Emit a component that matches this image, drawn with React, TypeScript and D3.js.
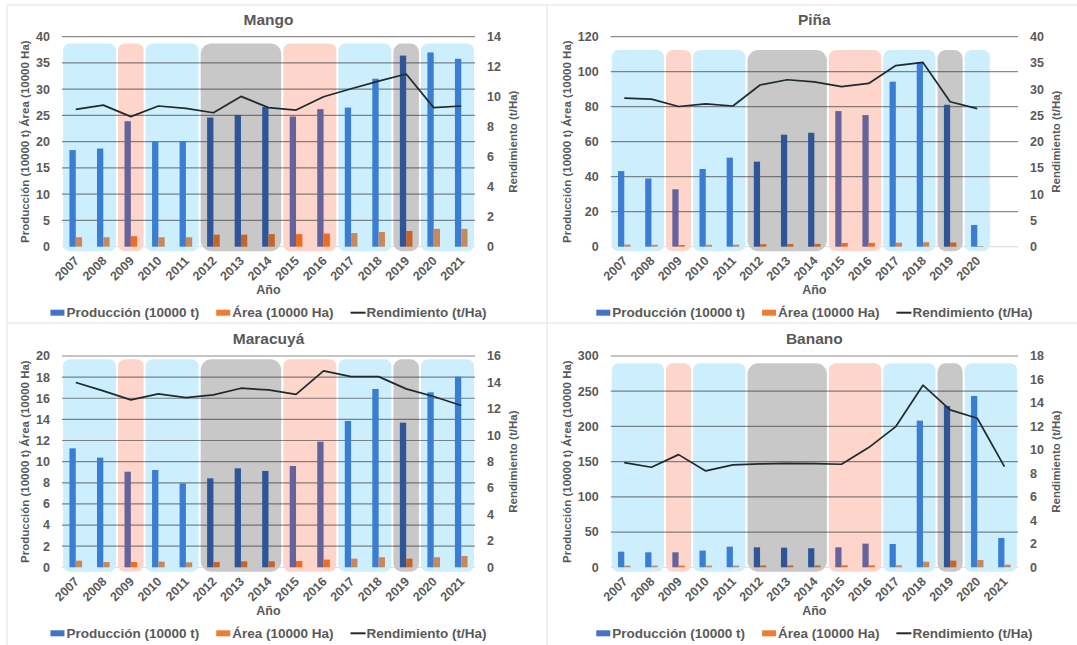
import React, { useEffect, useRef } from 'react';
import * as d3 from 'd3';

// ---- data ----
const years = ['2007', '2008', '2009', '2010', '2011', '2012', '2013', '2014', '2015', '2016', '2017', '2018', '2019', '2020', '2021'];

const mangoProduccion = [18.4, 18.7, 23.9, 20.0, 20.1, 24.6, 25.1, 26.6, 24.8, 26.2, 26.5, 32.0, 36.4, 37.0, 35.8];
const mangoArea = [1.8, 1.8, 2.0, 1.8, 1.8, 2.3, 2.3, 2.4, 2.4, 2.5, 2.6, 2.8, 3.0, 3.4, 3.4];
const mangoRendimiento = [9.16, 9.44, 8.67, 9.38, 9.22, 8.93, 10.02, 9.27, 9.11, 10.0, 10.53, 11.04, 11.51, 9.27, 9.38];

const pinaProduccion = [43.2, 39.0, 32.8, 44.4, 50.9, 48.6, 64.0, 65.1, 77.5, 75.2, 94.3, 105.3, 81.1, 12.4];
const pinaArea = [1.2, 1.1, 1.0, 1.1, 1.2, 1.4, 1.5, 1.6, 2.1, 2.2, 2.3, 2.6, 2.4, 0.4];
const pinaRendimiento = [28.3, 28.1, 26.7, 27.2, 26.8, 30.8, 31.8, 31.4, 30.5, 31.1, 34.5, 35.1, 27.6, 26.3];

const maracuyaProduccion = [11.26, 10.38, 9.05, 9.21, 7.95, 8.42, 9.37, 9.12, 9.59, 11.89, 13.85, 16.88, 13.69, 16.56, 18.04];
const maracuyaArea = [0.63, 0.5, 0.5, 0.54, 0.47, 0.5, 0.57, 0.57, 0.6, 0.73, 0.82, 0.95, 0.82, 0.95, 1.07];
const maracuyaRendimiento = [13.99, 13.36, 12.68, 13.13, 12.85, 13.06, 13.56, 13.43, 13.1, 14.87, 14.44, 14.44, 13.51, 12.93, 12.25];

const bananoProduccion = [22.2, 21.3, 21.3, 23.7, 29.3, 28.4, 27.9, 27.0, 28.4, 33.6, 33.1, 208.2, 229.1, 243.3, 41.6];
const bananoArea = [2.4, 2.4, 2.4, 2.4, 2.4, 2.6, 2.6, 2.6, 2.8, 2.8, 2.8, 8.0, 9.5, 10.4, 3.8];
const bananoRendimiento = [8.92, 8.52, 9.6, 8.21, 8.72, 8.81, 8.86, 8.84, 8.78, 10.2, 11.99, 15.51, 13.41, 12.7, 8.58];

// shaded year spans behind the bars
const periodFrom = ['2007', '2009', '2010', '2012', '2015', '2017', '2019', '2020'];
const periodTo = ['2008', '2009', '2011', '2014', '2016', '2018', '2019', '2021'];
const periodKind = ['blue', 'pink', 'blue', 'gray', 'pink', 'blue', 'gray', 'blue'];

const legendLabels = ['Producción (10000 t)', 'Área (10000 Ha)', 'Rendimiento (t/Ha)'];

// ---- styles ----
const kindStyle: Record<string, { bg: string; prod: string; area: string; rx: number }> = {
  blue: { bg: '#cdeefc', prod: '#3a7dd2', area: '#c9885a', rx: 7 },
  pink: { bg: '#fdd5cb', prod: '#66629c', area: '#ef6b22', rx: 7 },
  gray: { bg: '#c8c8c8', prod: '#2f5597', area: '#c4652c', rx: 11 },
};
const TEXT = '#595959';
const FONT = '"Liberation Sans", Arial, sans-serif';

type PanelCfg = {
  title: string;
  prod: number[];
  area: number[];
  rend: number[];
  leftMax: number;
  leftStep: number;
  rightMax: number;
  rightStep: number;
  left: number;
  right: number;
  top: number;
  bottom: number;
  shadeInset: number;
};

const panels: PanelCfg[] = [
  { title: 'Mango', prod: mangoProduccion, area: mangoArea, rend: mangoRendimiento, leftMax: 40, leftStep: 5, rightMax: 14, rightStep: 2, left: 62, right: 475, top: 36.7, bottom: 246.7, shadeInset: 6.7 },
  { title: 'Piña', prod: pinaProduccion, area: pinaArea, rend: pinaRendimiento, leftMax: 120, leftStep: 20, rightMax: 40, rightStep: 5, left: 610.7, right: 1018, top: 36.7, bottom: 246.7, shadeInset: 13.3 },
  { title: 'Maracuyá', prod: maracuyaProduccion, area: maracuyaArea, rend: maracuyaRendimiento, leftMax: 20, leftStep: 2, rightMax: 16, rightStep: 2, left: 62, right: 475, top: 356, bottom: 567.3, shadeInset: 3.3 },
  { title: 'Banano', prod: bananoProduccion, area: bananoArea, rend: bananoRendimiento, leftMax: 300, leftStep: 50, rightMax: 18, rightStep: 2, left: 610.7, right: 1018, top: 356, bottom: 567.3, shadeInset: 7.3 },
];

function kindAt(i: number): string {
  for (let k = 0; k < periodFrom.length; k++) {
    const a = years.indexOf(periodFrom[k]);
    const b = years.indexOf(periodTo[k]);
    if (i >= a && i <= b) return periodKind[k];
  }
  return 'blue';
}

function drawPanel(svg: d3.Selection<SVGSVGElement, unknown, null, undefined>, p: PanelCfg) {
  const g = svg.append('g');
  const n = p.prod.length;
  const x = d3.scaleBand<string>().domain(years).range([p.left, p.right]).padding(0);
  const bw = x.bandwidth();
  const xs = d3.scaleBand<string>().domain(['prod', 'area']).range([0, bw]).paddingInner(0).paddingOuter(1.18);
  const y = d3.scaleLinear().domain([0, p.leftMax]).range([p.bottom, p.top]);
  const y2 = d3.scaleLinear().domain([0, p.rightMax]).range([p.bottom, p.top]);

  // zero axis line
  g.append('line')
    .attr('x1', p.left).attr('x2', p.right)
    .attr('y1', y(0)).attr('y2', y(0))
    .attr('stroke', '#d9d9d9').attr('stroke-width', 1);

  // shaded periods
  periodFrom.forEach((from, k) => {
    const a = years.indexOf(from);
    const b = Math.min(years.indexOf(periodTo[k]), n - 1);
    if (a > b) return;
    const st = kindStyle[periodKind[k]];
    const x0 = (x(years[a]) as number) + 1;
    const x1 = (x(years[b]) as number) + bw - 1;
    const yTop = p.top + p.shadeInset;
    const yBot = p.bottom + 4.5;
    g.append('rect')
      .attr('x', x0).attr('y', yTop)
      .attr('width', x1 - x0).attr('height', yBot - yTop)
      .attr('rx', Math.min(st.rx, (x1 - x0) / 3)).attr('ry', Math.min(st.rx, (x1 - x0) / 3))
      .attr('fill', st.bg);
  });

  // gridlines
  const leftTicks = d3.range(0, p.leftMax + p.leftStep / 2, p.leftStep);
  g.selectAll(null)
    .data(leftTicks.filter((v) => v > 0))
    .enter()
    .append('line')
    .attr('x1', p.left).attr('x2', p.right)
    .attr('y1', (d) => y(d)).attr('y2', (d) => y(d))
    .attr('stroke', 'rgba(45,45,45,0.55)').attr('stroke-width', 1.2);

  // bars
  p.prod.forEach((v, i) => {
    const st = kindStyle[kindAt(i)];
    const cx = x(years[i]) as number;
    g.append('rect')
      .attr('x', cx + (xs('prod') as number)).attr('y', y(v))
      .attr('width', xs.bandwidth()).attr('height', y(0) - y(v))
      .attr('fill', st.prod);
    const a = p.area[i];
    g.append('rect')
      .attr('x', cx + (xs('area') as number)).attr('y', y(a))
      .attr('width', xs.bandwidth()).attr('height', y(0) - y(a))
      .attr('fill', st.area);
  });

  // yield line
  const line = d3.line<number>()
    .x((_, i) => (x(years[i]) as number) + bw / 2)
    .y((d) => y2(d));
  g.append('path')
    .attr('d', line(p.rend) as string)
    .attr('fill', 'none')
    .attr('stroke', '#1f2a2e')
    .attr('stroke-width', 1.7)
    .attr('stroke-linejoin', 'round');

  const txt = (sel: d3.Selection<SVGTextElement, unknown, null, undefined>, size: number) =>
    sel.attr('font-family', FONT).attr('font-weight', 'bold').attr('font-size', size).attr('fill', TEXT);

  // left tick labels
  leftTicks.forEach((v) => {
    txt(g.append('text'), 12.5)
      .attr('x', p.left - 12).attr('y', y(v))
      .attr('dy', '0.35em').attr('text-anchor', 'end')
      .text(String(v));
  });
  // right tick labels
  d3.range(0, p.rightMax + p.rightStep / 2, p.rightStep).forEach((v) => {
    txt(g.append('text'), 12.5)
      .attr('x', p.right + 12).attr('y', y2(v))
      .attr('dy', '0.35em').attr('text-anchor', 'start')
      .text(String(v));
  });

  // year labels
  years.slice(0, n).forEach((yr) => {
    const ax = (x(yr) as number) + bw / 2 + 4;
    const ay = p.bottom + 15;
    txt(g.append('text'), 12.5)
      .attr('transform', `translate(${ax},${ay}) rotate(-45)`)
      .attr('text-anchor', 'end')
      .text(yr);
  });

  const midX = (p.left + p.right) / 2;
  const midY = (p.top + p.bottom) / 2;

  // title
  txt(g.append('text'), 15.5)
    .attr('x', midX).attr('y', p.top - 17.5)
    .attr('dy', '0.35em').attr('text-anchor', 'middle')
    .text(p.title);

  // axis titles
  txt(g.append('text'), 12.5)
    .attr('x', midX).attr('y', p.bottom + 43)
    .attr('dy', '0.35em').attr('text-anchor', 'middle')
    .text('Año');

  const leftTitleX = p.left - (p.leftMax >= 100 ? 43.5 : 37);
  txt(g.append('text'), 11.5)
    .attr('transform', `translate(${leftTitleX},${midY}) rotate(-90)`)
    .attr('dy', '0.35em').attr('text-anchor', 'middle')
    .text('Producción (10000 t) Área (10000 Ha)');

  txt(g.append('text'), 11.5)
    .attr('transform', `translate(${p.right + 38},${midY}) rotate(-90)`)
    .attr('dy', '0.35em').attr('text-anchor', 'middle')
    .text('Rendimiento (t/Ha)');

  // legend
  const ly = p.bottom + 66;
  const lg = g.append('g');
  let cursor = 0;
  legendLabels.forEach((label, k) => {
    if (k === 2) {
      lg.append('line')
        .attr('x1', cursor).attr('x2', cursor + 15)
        .attr('y1', ly).attr('y2', ly)
        .attr('stroke', '#1f2a2e').attr('stroke-width', 2);
    } else {
      lg.append('rect')
        .attr('x', cursor).attr('y', ly - 3)
        .attr('width', 14).attr('height', 6)
        .attr('fill', k === 0 ? '#4472c4' : '#ed7d31');
    }
    cursor += 16;
    const t = txt(lg.append('text'), 13.5)
      .attr('x', cursor).attr('y', ly)
      .attr('dy', '0.35em')
      .text(label);
    const w = (t.node() as SVGTextElement).getComputedTextLength();
    cursor += w + (k < 2 ? 17 : 0);
  });
  lg.attr('transform', `translate(${midX - cursor / 2},0)`);
}

export default function App() {
  const ref = useRef<SVGSVGElement>(null);

  useEffect(() => {
    const svg = d3.select(ref.current as SVGSVGElement);
    svg.selectAll('*').remove();

    svg.append('rect').attr('width', 1077).attr('height', 645).attr('fill', '#ffffff');

    // panel frames
    const frame = '#e3e3e3';
    svg.append('line').attr('x1', 7).attr('x2', 7).attr('y1', 5).attr('y2', 645).attr('stroke', frame);
    svg.append('line').attr('x1', 7).attr('x2', 1077).attr('y1', 5).attr('y2', 5).attr('stroke', frame);
    svg.append('line').attr('x1', 547).attr('x2', 547).attr('y1', 5).attr('y2', 645).attr('stroke', frame);
    svg.append('line').attr('x1', 7).attr('x2', 1077).attr('y1', 323).attr('y2', 323).attr('stroke', frame);

    panels.forEach((p) => drawPanel(svg, p));
  }, []);

  return (
    <div style={{ position: 'fixed', left: 0, top: 0 }}>
      <svg ref={ref} width={1077} height={645} style={{ display: 'block' }} />
    </div>
  );
}
